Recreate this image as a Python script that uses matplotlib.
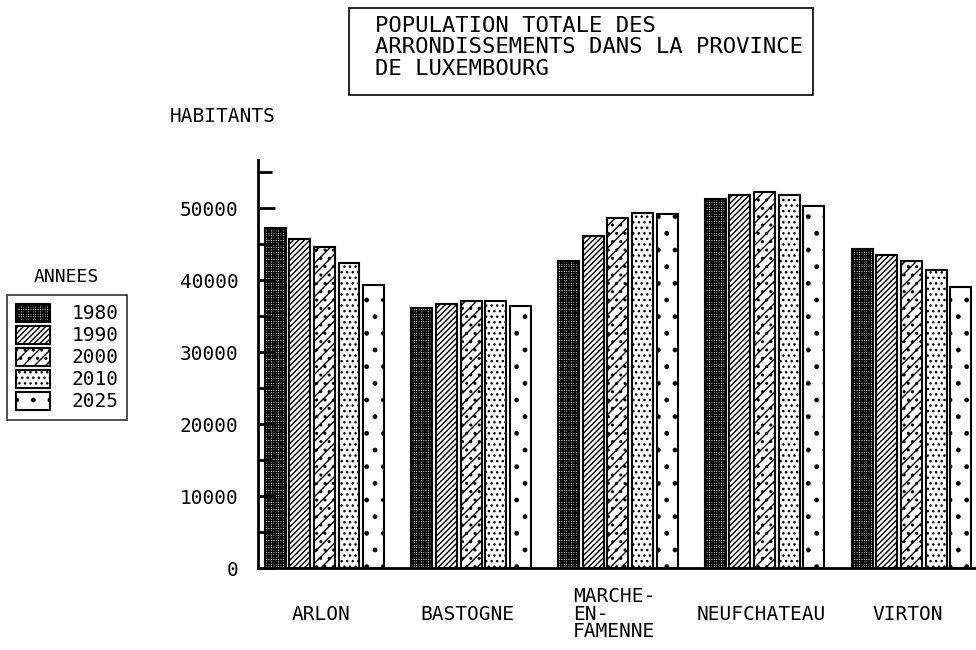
import matplotlib
matplotlib.use("Agg")
import matplotlib.pyplot as plt
from matplotlib.patches import Rectangle
from matplotlib.ticker import MultipleLocator
import numpy as np

plt.rcParams['font.family'] = ['DejaVu Sans Mono']
plt.rcParams['hatch.linewidth'] = 1.0

# ---- data ----
categories = ["ARLON", "BASTOGNE", "MARCHE-\nEN-\nFAMENNE", "NEUFCHATEAU", "VIRTON"]
years = ["1980", "1990", "2000", "2010", "2025"]
pop_1980 = [47200, 36100, 42700, 51300, 44300]
pop_1990 = [45700, 36700, 46100, 51900, 43500]
pop_2000 = [44600, 37100, 48600, 52200, 42700]
pop_2010 = [42400, 37100, 49400, 51900, 41400]
pop_2025 = [39300, 36400, 49200, 50300, 39100]
series = [pop_1980, pop_1990, pop_2000, pop_2010, pop_2025]
yticks = [0, 10000, 20000, 30000, 40000, 50000]

title = "POPULATION TOTALE DES\nARRONDISSEMENTS DANS LA PROVINCE\nDE LUXEMBOURG"

# ---- style ----
hatches = ['+++++++', '//////', '///..', '...', '.']
W, H = 976, 650
fig = plt.figure(figsize=(W / 100, H / 100), dpi=100)
ax = fig.add_axes([258 / W, (H - 568) / H, (W - 258) / W, (568 - 160) / H])

x = np.arange(len(categories))
pitch = 0.168
bw = 0.143
handles = []
for j, (yr, vals) in enumerate(zip(years, series)):
    b = ax.bar(x + (j - 2) * pitch, vals, width=bw, facecolor='white',
               edgecolor='black', linewidth=1.5, hatch=hatches[j], label=yr)
    handles.append(b)

ax.set_xlim(-0.452, 4.44)
ax.set_ylim(0, 56700)
for s in ['top', 'right']:
    ax.spines[s].set_visible(False)
ax.spines['left'].set_linewidth(2)
ax.spines['bottom'].set_linewidth(2)

ax.set_yticks(yticks)
ax.set_yticklabels([str(v) for v in yticks])
ax.yaxis.set_minor_locator(MultipleLocator(5000))
ax.tick_params(axis='y', which='major', direction='in', length=12, width=2,
               labelsize=14, pad=14)
ax.tick_params(axis='y', which='minor', direction='in', length=10, width=2)
ax.set_xticks([])

lab_y = -(614 - 568) / (568 - 160)
trans = ax.get_xaxis_transform()
for xi, cat in zip(x, categories):
    ax.text(xi - 0.025, lab_y, cat, transform=trans, ha='center', va='center',
            multialignment='left', fontsize=14, linespacing=0.88)

# title box
fig.patches.append(Rectangle((349 / W, 1 - 95 / H), (813 - 349) / W, 87 / H,
                             transform=fig.transFigure, fill=False,
                             edgecolor='black', linewidth=1.2))
fig.text(375 / W, 1 - 16 / H, title, ha='left', va='top', fontsize=16,
         linespacing=1.08)

fig.text(170 / W, 1 - 117 / H, "HABITANTS", ha='left', va='center', fontsize=14)
fig.text(66 / W, 1 - 277 / H, "ANNEES", ha='center', va='center', fontsize=13)

leg = fig.legend(handles=handles, labels=years, loc='upper left',
                 bbox_to_anchor=(7 / W, 1 - 295 / H), borderaxespad=0,
                 fontsize=14, handlelength=1.75, handleheight=1.05,
                 labelspacing=0.12, fancybox=False, frameon=True,
                 borderpad=0.45, handletextpad=1.1)
leg.get_frame().set_edgecolor('black')
leg.get_frame().set_linewidth(1.2)

fig.savefig("out.png", dpi=100)
